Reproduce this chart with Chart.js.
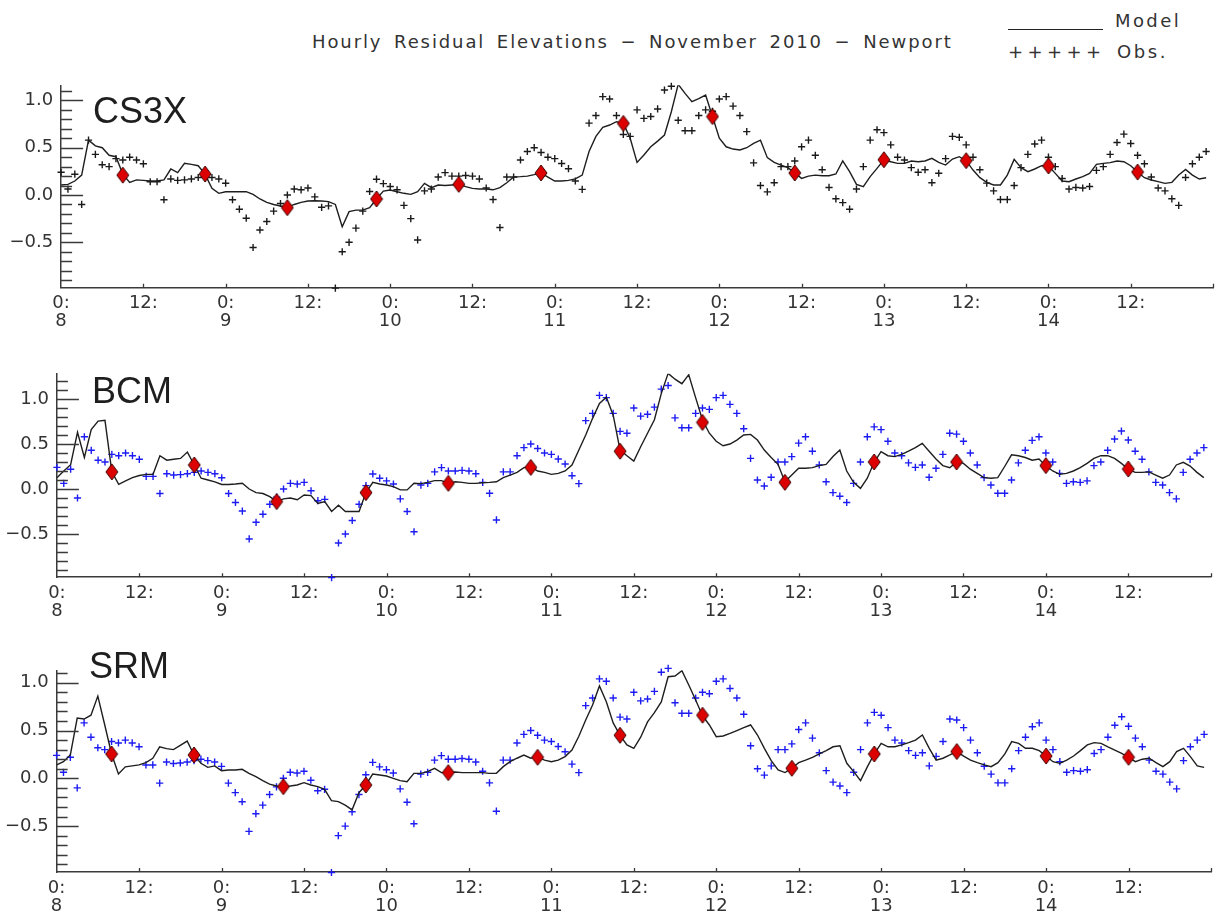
<!DOCTYPE html>
<html>
<head>
<meta charset="utf-8">
<title>Hourly Residual Elevations</title>
<script src="https://cdn.jsdelivr.net/npm/chart.js@4.4.0/dist/chart.umd.min.js"></script>
<style>
  body{margin:0;background:#fff;width:1219px;height:920px;overflow:hidden;position:relative;font-family:"DejaVu Sans",sans-serif;color:#333;}
  canvas{position:absolute;left:0;top:0;}
  .txt{position:absolute;white-space:nowrap;font-size:18px;line-height:20px;letter-spacing:1.9px;word-spacing:4px;}
  #legend_line{position:absolute;left:1008px;top:29px;width:95px;border-top:1.5px solid #222;}
</style>
</head>
<body>
<div class="txt" id="title" style="left:312px;top:32px;">Hourly Residual Elevations − November 2010 − Newport</div>
<div id="legend_line"></div>
<div class="txt" style="left:1115px;top:11px;letter-spacing:2.4px;">Model</div>
<div class="txt" style="left:1008px;top:42px;letter-spacing:4.4px;">+++++</div>
<div class="txt" style="left:1117px;top:42px;letter-spacing:2.6px;">Obs.</div>
<canvas id="chart_cs3x" width="1222" height="920"></canvas>
<canvas id="chart_bcm" width="1222" height="920"></canvas>
<canvas id="chart_srm" width="1222" height="920"></canvas>
<script>
// hourly values, hour 0 = 8 Nov 00:00
var obs = [
  0.24, 0.063, 0.22, -0.10, 0.58, 0.43, 0.32, 0.30, 0.385, 0.37, 0.40, 0.37,
  0.33, 0.14, 0.14, -0.05, 0.17, 0.155, 0.16, 0.17, 0.185, 0.20, 0.185, 0.17,
  0.125, -0.05, -0.15, -0.245, -0.555, -0.37, -0.28, -0.17, -0.09, 0.0, 0.063, 0.055,
  0.074, -0.02, -0.13, -0.115, -0.985, -0.60, -0.50, -0.35, -0.17, 0.037, 0.167, 0.12,
  0.09, 0.055, -0.11, -0.25, -0.475, 0.044, 0.063, 0.19, 0.237, 0.20, 0.20, 0.207,
  0.20, 0.17, 0.074, -0.048, -0.344, 0.19, 0.19, 0.37, 0.46, 0.50, 0.45, 0.40,
  0.385, 0.333, 0.278, 0.148, 0.06, 0.76, 0.84, 1.04, 1.015, 0.84, 0.64, 0.62,
  0.90, 0.81, 0.83, 0.91, 1.11, 1.15, 0.79, 0.68, 0.68, 0.84, 0.90, 0.885,
  1.015, 1.04, 0.94, 0.84, 0.67, 0.34, 0.10, 0.033, 0.13, 0.30, 0.30, 0.36,
  0.51, 0.58, 0.42, 0.267, 0.08, -0.04, -0.08, -0.15, 0.063, 0.30, 0.58, 0.69,
  0.66, 0.53, 0.40, 0.37, 0.29, 0.24, 0.267, 0.13, 0.23, 0.385, 0.62, 0.61,
  0.53, 0.40, 0.267, 0.126, 0.044, -0.048, -0.048, 0.10, 0.29, 0.43, 0.54, 0.58,
  0.40, 0.30, 0.174, 0.063, 0.08, 0.074, 0.09, 0.26, 0.30, 0.43, 0.555, 0.644,
  0.544, 0.42, 0.33, 0.19, 0.074, 0.044, -0.04, -0.11, 0.185, 0.33, 0.40, 0.46
]
var model_cs3x = [
  0.106, 0.113, 0.148, 0.21, 0.58, 0.52, 0.50, 0.42, 0.405, 0.22, 0.134, 0.16,
  0.155, 0.148, 0.148, 0.16, 0.275, 0.236, 0.335, 0.324, 0.31, 0.218, 0.07, 0.018,
  0.035, 0.035, 0.035, 0.035, 0.007, -0.042, -0.078, -0.10, -0.116, -0.13, -0.10, -0.078,
  -0.063, -0.06, -0.063, -0.07, -0.10, -0.335, -0.176, -0.16, -0.16, -0.134, -0.042, 0.042,
  0.053, 0.035, 0.018, 0.007, 0.035, 0.123, 0.078, 0.106, 0.10, 0.106, 0.113, 0.088,
  0.07, 0.063, 0.063, 0.055, 0.078, 0.13, 0.19, 0.194, 0.20, 0.215, 0.233, 0.19,
  0.148, 0.148, 0.155, 0.17, 0.21, 0.46, 0.62, 0.715, 0.74, 0.775, 0.757, 0.60,
  0.345, 0.423, 0.51, 0.57, 0.634, 0.88, 1.17, 1.075, 0.987, 1.02, 1.057, 0.83,
  0.60, 0.51, 0.486, 0.476, 0.50, 0.546, 0.58, 0.395, 0.345, 0.317, 0.29, 0.233,
  0.176, 0.20, 0.21, 0.204, 0.204, 0.222, 0.36, 0.247, 0.113, 0.088, 0.194, 0.282,
  0.373, 0.352, 0.335, 0.335, 0.36, 0.352, 0.36, 0.388, 0.345, 0.317, 0.38, 0.405,
  0.363, 0.264, 0.183, 0.134, 0.106, 0.106, 0.21, 0.377, 0.289, 0.247, 0.275, 0.31,
  0.307, 0.229, 0.148, 0.141, 0.169, 0.194, 0.229, 0.324, 0.335, 0.342, 0.36, 0.352,
  0.31, 0.243, 0.183, 0.159, 0.141, 0.123, 0.134, 0.211, 0.271, 0.211, 0.169, 0.183
]
var model_bcm = [
  0.126, 0.20, 0.27, 0.63, 0.35, 0.66, 0.755, 0.763, 0.19, 0.052, 0.09, 0.126,
  0.15, 0.163, 0.163, 0.37, 0.32, 0.33, 0.34, 0.41, 0.267, 0.12, 0.10, 0.08,
  0.05, 0.05, 0.055, 0.063, 0.0, -0.04, -0.05, -0.085, -0.14, -0.11, -0.10, -0.12,
  -0.067, -0.074, -0.16, -0.14, -0.25, -0.18, -0.25, -0.25, -0.25, -0.04, 0.074, 0.055,
  0.044, 0.026, -0.01, -0.01, 0.063, 0.06, 0.074, 0.093, 0.093, 0.063, 0.08, 0.074,
  0.063, 0.063, 0.07, 0.074, 0.08, 0.126, 0.155, 0.185, 0.237, 0.248, 0.20, 0.185,
  0.163, 0.174, 0.20, 0.267, 0.433, 0.60, 0.785, 0.95, 1.02, 0.82, 0.433, 0.37,
  0.31, 0.47, 0.62, 0.77, 1.06, 1.285, 1.22, 1.17, 1.27, 1.015, 0.767, 0.62,
  0.53, 0.48, 0.50, 0.544, 0.60, 0.607, 0.544, 0.433, 0.35, 0.274, 0.08, 0.155,
  0.23, 0.23, 0.237, 0.26, 0.274, 0.36, 0.433, 0.20, 0.074, 0.007, 0.12, 0.30,
  0.415, 0.37, 0.36, 0.385, 0.42, 0.46, 0.507, 0.42, 0.333, 0.26, 0.237, 0.30,
  0.285, 0.22, 0.174, 0.126, 0.12, 0.126, 0.25, 0.38, 0.37, 0.35, 0.32, 0.333,
  0.255, 0.20, 0.163, 0.174, 0.20, 0.237, 0.285, 0.34, 0.37, 0.37, 0.34, 0.285,
  0.22, 0.185, 0.185, 0.19, 0.155, 0.12, 0.155, 0.267, 0.296, 0.255, 0.185, 0.126
]
var model_srm = [
  0.14, 0.174, 0.244, 0.63, 0.62, 0.66, 0.86, 0.56, 0.255, 0.045, 0.12, 0.13,
  0.14, 0.164, 0.21, 0.33, 0.31, 0.30, 0.345, 0.39, 0.244, 0.157, 0.115, 0.13,
  0.08, 0.087, 0.087, 0.094, 0.052, 0.017, -0.024, -0.06, -0.08, -0.087, -0.08, -0.07,
  -0.045, -0.07, -0.087, -0.115, -0.234, -0.244, -0.28, -0.33, -0.15, -0.07, 0.045, 0.035,
  0.024, 0.0, -0.024, -0.035, 0.052, 0.052, 0.07, 0.105, 0.06, 0.06, 0.066, 0.06,
  0.06, 0.06, 0.06, 0.052, 0.052, 0.122, 0.174, 0.21, 0.244, 0.21, 0.227, 0.19,
  0.174, 0.19, 0.227, 0.296, 0.44, 0.61, 0.767, 0.966, 0.80, 0.58, 0.45, 0.35,
  0.314, 0.43, 0.59, 0.687, 0.80, 1.063, 1.07, 1.126, 0.976, 0.82, 0.655, 0.558,
  0.436, 0.443, 0.47, 0.50, 0.53, 0.558, 0.453, 0.314, 0.185, 0.087, 0.06, 0.105,
  0.164, 0.19, 0.22, 0.255, 0.29, 0.33, 0.34, 0.157, 0.07, -0.024, 0.122, 0.255,
  0.366, 0.33, 0.33, 0.35, 0.373, 0.40, 0.453, 0.314, 0.19, 0.21, 0.244, 0.28,
  0.233, 0.19, 0.164, 0.14, 0.122, 0.164, 0.255, 0.384, 0.366, 0.314, 0.314, 0.29,
  0.233, 0.174, 0.157, 0.19, 0.233, 0.29, 0.35, 0.373, 0.366, 0.33, 0.296, 0.26,
  0.22, 0.174, 0.20, 0.21, 0.164, 0.122, 0.174, 0.28, 0.314, 0.227, 0.13, 0.115
]

// diamond markers: hour and value per model
var peak_hours_cs3x = [9, 21, 33, 46, 58, 70, 82, 95, 107, 120, 132, 144, 157]
var peak_vals_cs3x = [0.21, 0.222, -0.134, -0.042, 0.113, 0.233, 0.757, 0.83, 0.233, 0.373, 0.363, 0.307, 0.243]
var peak_hours_bcm = [8, 20, 32, 45, 57, 69, 82, 94, 106, 119, 131, 144, 156]
var peak_vals_bcm = [0.19, 0.267, -0.14, -0.04, 0.063, 0.24, 0.42, 0.74, 0.074, 0.30, 0.30, 0.26, 0.222]
var peak_hours_srm = [8, 20, 33, 45, 57, 70, 82, 94, 107, 119, 131, 144, 156]
var peak_vals_srm = [0.255, 0.244, -0.087, -0.07, 0.06, 0.22, 0.45, 0.66, 0.105, 0.255, 0.28, 0.233, 0.22]

// axis ticks
var tick_hours = [0, 12, 24, 36, 48, 60, 72, 84, 96, 108, 120, 132, 144, 156]
var x_tick_labels = [['0:', '8'], '12:', ['0:', '9'], '12:', ['0:', '10'], '12:', ['0:', '11'], '12:',
                     ['0:', '12'], '12:', ['0:', '13'], '12:', ['0:', '14'], '12:']
var y_tick_values = [-0.5, 0, 0.5, 1.0]
var y_tick_labels = ['\u22120.5', '0.0', '0.5', '1.0']

var canvas_w = 1222
var canvas_h = 920
var x_axis_h = 40
var axis_color = '#3a3a3a'
var tick_font = {family: '"DejaVu Sans", sans-serif', size: 18, lineHeight: 1.0}

// plot boxes in page pixels
var panels = [
    {id: 'chart_cs3x', name: 'CS3X', model: model_cs3x, peak_h: peak_hours_cs3x, peak_v: peak_vals_cs3x,
     obs_color: '#1a1a1a', ymax: 1.16, left: 61.1, right: 1220.5, top: 85.3, bottom: 287.7, name_x: 93, name_y: 123},
    {id: 'chart_bcm', name: 'BCM', model: model_bcm, peak_h: peak_hours_bcm, peak_v: peak_vals_bcm,
     obs_color: '#1c1cf2', ymax: 1.28, left: 56.9, right: 1210.7, top: 373.8, bottom: 577.2, name_x: 92, name_y: 403},
    {id: 'chart_srm', name: 'SRM', model: model_srm, peak_h: peak_hours_srm, peak_v: peak_vals_srm,
     obs_color: '#1c1cf2', ymax: 1.13, left: 56.6, right: 1211, top: 670.3, bottom: 872, name_x: 89, name_y: 678}
]

function diamondImage(){
    var c = document.createElement('canvas')
    c.width = 14
    c.height = 18
    var g = c.getContext('2d')
    g.beginPath()
    g.moveTo(7, 1)
    g.lineTo(13, 9)
    g.lineTo(7, 17)
    g.lineTo(1, 9)
    g.closePath()
    g.fillStyle = '#dd0000'
    g.fill()
    g.lineWidth = 1
    g.strokeStyle = '#3a0000'
    g.stroke()
    return c
}
var diamond = diamondImage()

// minor/major ticks pointing into the plot, plus the panel name
var inner_ticks = {
    id: 'inner_ticks',
    afterDraw: function(chart){
        var ctx = chart.ctx
        var xs = chart.scales.x
        var ys = chart.scales.y
        var area = chart.chartArea
        ctx.save()
        ctx.strokeStyle = axis_color
        ctx.lineWidth = 1.3
        ctx.beginPath()
        for(var k = -9; k <= 12; k++){
            var v = k / 10
            if(v < ys.min || v > ys.max) continue
            var py = Math.round(ys.getPixelForValue(v)) + 0.5
            var len = (k % 5 == 0) ? 22 : 11
            ctx.moveTo(area.left, py)
            ctx.lineTo(area.left + len, py)
        }
        for(var h = 12; h <= 168; h += 12){
            var px = Math.round(xs.getPixelForValue(h)) + 0.5
            ctx.moveTo(px, area.bottom)
            ctx.lineTo(px, area.bottom - 4)
        }
        ctx.stroke()
        var p = chart.options.plugins.inner_ticks
        ctx.fillStyle = '#1e1e1e'
        ctx.font = '36px "Liberation Sans", Arial, sans-serif'
        ctx.textBaseline = 'alphabetic'
        ctx.fillText(p.name, p.x, p.y)
        ctx.restore()
    }
}

function toPoints(values){
    return values.map(function(v, i){ return {x: i, y: v} })
}

function peakPoints(hours, values){
    return hours.map(function(h, i){ return {x: h, y: values[i]} })
}

function drawPanel(p){
    var element = document.getElementById(p.id)
    return new Chart(element, {
        type: 'line',
        data: {
            datasets: [
                {data: peakPoints(p.peak_h, p.peak_v), showLine: false, pointStyle: diamond, pointRadius: 8, order: 0},
                {data: toPoints(p.model), borderColor: '#1e1e1e', borderWidth: 1.4, pointRadius: 0, tension: 0, order: 1},
                {data: toPoints(obs), showLine: false, pointStyle: 'cross', pointRadius: 3.6,
                 pointBorderColor: p.obs_color, pointBorderWidth: 1.4, clip: false, order: 2}
            ]
        },
        options: {
            responsive: false,
            animation: false,
            devicePixelRatio: 1,
            events: [],
            layout: {padding: {left: 0, top: p.top, right: canvas_w - p.right, bottom: canvas_h - p.bottom - x_axis_h}},
            plugins: {
                legend: {display: false},
                tooltip: {enabled: false},
                inner_ticks: {name: p.name, x: p.name_x, y: p.name_y}
            },
            scales: {
                x: {
                    type: 'linear', min: 0, max: 168,
                    afterFit: function(s){ s.height = x_axis_h },
                    afterBuildTicks: function(s){ s.ticks = tick_hours.map(function(h){ return {value: h} }) },
                    grid: {display: false, drawTicks: false},
                    border: {display: true, color: axis_color, width: 1.5},
                    ticks: {padding: 7, color: '#333', font: tick_font, maxRotation: 0, autoSkip: false,
                        callback: function(value){ return x_tick_labels[tick_hours.indexOf(value)] }}
                },
                y: {
                    min: -0.98, max: p.ymax,
                    afterFit: function(s){ s.width = p.left },
                    afterBuildTicks: function(s){ s.ticks = y_tick_values.map(function(v){ return {value: v} }) },
                    grid: {display: false, drawTicks: false},
                    border: {display: true, color: axis_color, width: 1.5},
                    ticks: {padding: 8, color: '#333', font: tick_font,
                        callback: function(value){ return y_tick_labels[y_tick_values.indexOf(value)] }}
                }
            }
        },
        plugins: [inner_ticks]
    })
}

panels.forEach(function(p){ drawPanel(p) })
</script>
</body>
</html>
